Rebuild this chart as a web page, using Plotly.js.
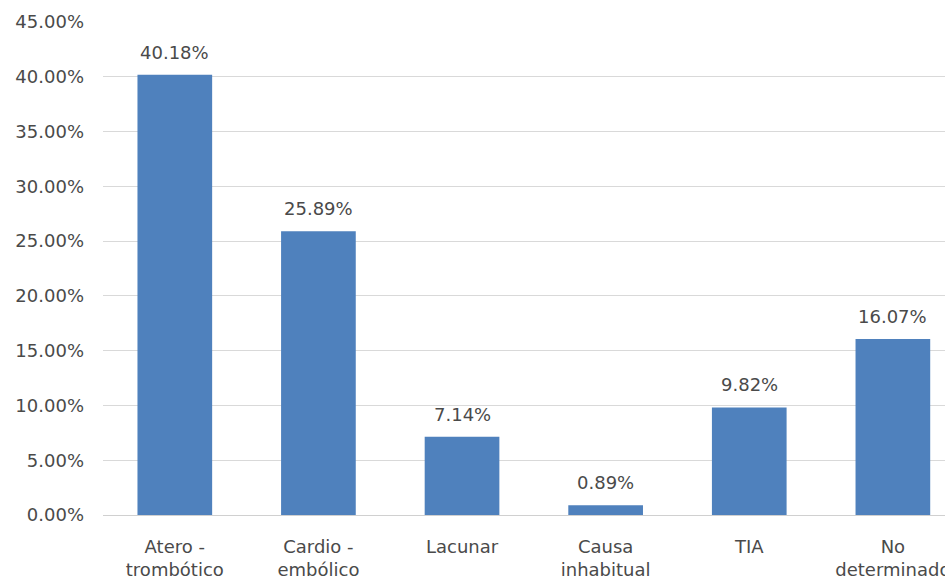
<!DOCTYPE html>
<html>
<head>
<meta charset="utf-8">
<script src="https://cdn.plot.ly/plotly-3.0.1.min.js"></script>
<style>html,body{margin:0;padding:0;background:#fff;overflow:hidden}</style>
</head>
<body>
<div id="chart" style="width:945px;height:581px"></div>
<script>
var categories = ["Atero -<br>trombótico", "Cardio -<br>embólico", "Lacunar", "Causa<br>inhabitual", "TIA", "No<br>determinado"];
var values = [0.4018, 0.2589, 0.0714, 0.0089, 0.0982, 0.1607];
var valueLabels = ["40.18%", "25.89%", "7.14%", "0.89%", "9.82%", "16.07%"];

var textColor = "#4a4a4a";
var fontFam = "DejaVu Sans, sans-serif";

var trace = {
  type: "bar",
  x: categories.map(function(c, i){ return i; }),
  y: values,
  marker: {color: "#4F81BD"},
  width: 0.52,
  hoverinfo: "none"
};

var annotations = values.map(function(v, i){
  return {
    x: i, y: v, xref: "x", yref: "y",
    text: valueLabels[i], showarrow: false,
    yanchor: "bottom", yshift: 10,
    font: {family: fontFam, size: 18, color: textColor}
  };
});

var layout = {
  width: 945, height: 581,
  margin: {l: 103, r: 0, t: 22, b: 66},
  paper_bgcolor: "#ffffff", plot_bgcolor: "#ffffff",
  showlegend: false,
  font: {family: fontFam, size: 18, color: textColor},
  xaxis: {
    range: [-0.5, 5.363],
    tickmode: "array",
    tickvals: categories.map(function(c, i){ return i; }),
    ticktext: categories,
    showgrid: false, zeroline: false, showline: false,
    ticks: "", ticklabelstandoff: 19,
    ticklabeloverflow: "allow",
    tickfont: {family: fontFam, size: 18, color: textColor},
    fixedrange: true
  },
  yaxis: {
    range: [0, 0.45],
    dtick: 0.05, tick0: 0,
    tickformat: ".2%",
    showgrid: true, gridcolor: "#d9d9d9", gridwidth: 1,
    zeroline: true, zerolinecolor: "#d0d0d0", zerolinewidth: 1,
    showline: false, ticks: "", ticklabelstandoff: 18,
    tickfont: {family: fontFam, size: 18, color: textColor},
    fixedrange: true
  },
  annotations: annotations,
  bargap: 0.48
};

Plotly.newPlot("chart", [trace], layout, {displayModeBar: false, staticPlot: true});
</script>
</body>
</html>
